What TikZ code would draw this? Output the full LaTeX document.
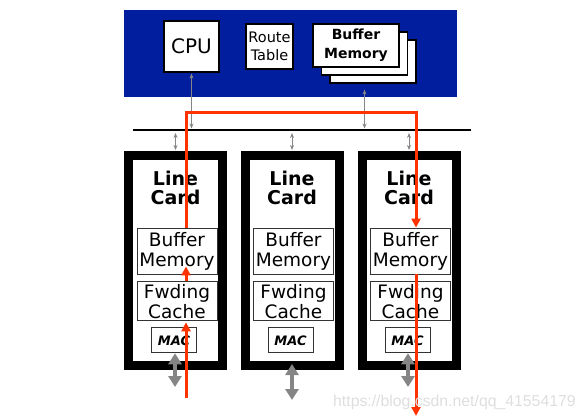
\documentclass[tikz,border=0pt]{standalone}
\usepackage{fontspec}
\setmainfont{DejaVu Sans}
\newfontfamily\wmfont{Liberation Sans}
\usepackage{tikz}
\usetikzlibrary{arrows.meta,positioning}
\definecolor{chassis}{HTML}{001E9E}
\definecolor{flow}{HTML}{FF3300}
\definecolor{link}{HTML}{858585}

\begin{document}
\begin{tikzpicture}[x=1pt, y=-1pt, >=Latex,
  unit/.style={draw, fill=white, line width=1.2pt, inner sep=0pt, align=center},
  cardbox/.style={draw, line width=9pt, fill=white, minimum width=94pt, minimum height=210pt, inner sep=0pt},
  part/.style={draw=black!80, fill=white, line width=0.9pt, minimum width=80pt, inner sep=0pt, align=center, font=\fontsize{18.5}{20}\selectfont},
  macbox/.style={draw=black!80, fill=white, line width=0.9pt, minimum width=45pt, minimum height=25pt, inner sep=0pt, font=\fontsize{13}{15}\selectfont\bfseries\itshape},
  thinlink/.style={<->, link, line width=0.9pt, >={Stealth[length=5pt,width=4pt]}},
  portlink/.style={<->, link, line width=4pt, >={Triangle[length=11pt,width=13pt]}},
  flowpath/.style={->, flow, line width=3pt, >={Triangle[length=9pt,width=9pt]}}]
\useasboundingbox (0,0) rectangle (586,420);

% switch fabric / CPU board
\node[fill=chassis, minimum width=333pt, minimum height=87pt, inner sep=0pt] (fabric) at (290.5,53.5) {};
\node[unit, minimum width=55pt, minimum height=51pt, font=\fontsize{20}{22}\selectfont] (cpu) at (191.5,46.5) {CPU};
\node[unit, minimum width=47pt, minimum height=45pt, font=\fontsize{14.5}{18}\selectfont] (rt) at (269.5,46.5) {Route\\Table};
\node[unit, minimum width=86pt, minimum height=43pt] (bm3) at (373,61.5) {};
\node[unit, minimum width=86pt, minimum height=43pt] (bm2) at (364.5,53.5) {};
\node[unit, minimum width=86pt, minimum height=43pt, font=\fontsize{14}{19}\selectfont\bfseries] (bm1) at (356,45.5) {Buffer\\Memory};

% bus
\coordinate (busL) at (133,130);
\coordinate (busR) at (471,130);
\draw[line width=1.6pt] (busL) -- (busR);
\draw[thinlink] ([yshift=-1pt]cpu.south) -- ([yshift=1.5pt]cpu.south |- busL);
\draw[thinlink] ([yshift=-6pt]bm2 |- bm3.south) -- ([yshift=1.5pt]bm2 |- busL);

% line cards
\foreach \i/\x in {1/175.5, 2/292, 3/409} {
  \node[cardbox] (card\i) at (\x,260.5) {};
  \node[align=center, font=\fontsize{19}{19}\selectfont\bfseries] (lc\i) at (\x,187.5) {Line\\Card};
  \node[part, minimum height=46pt] (buf\i) at (\x+1.5,251) {Buffer\\Memory};
  \node[part, minimum height=39pt, below=7pt of buf\i] (fwd\i) {Fwding\\Cache};
  \node[macbox, below=6pt of fwd\i, xshift=-3pt] (mac\i) {MAC};
  \draw[thinlink] ([yshift=-3pt]card\i.north |- busL) -- ([yshift=1pt]card\i.north);
}

% external ports
\coordinate (port1) at (175,387);
\coordinate (port2) at (292,400);
\coordinate (port3) at (408,387);
\draw[portlink] (port1 |- mac1.south) -- (port1);
\draw[portlink] ([yshift=6pt]port2 |- card2.south) -- (port2);
\draw[portlink] (port3 |- mac3.south) -- (port3);

% packet path
\coordinate (rin) at (186,398);
\coordinate (rturn) at (416,112);
\coordinate (rout) at (416,416);
\draw[flowpath] (rin) -- ([yshift=-1pt]rin |- fwd1.south);
\draw[flowpath] (rin |- fwd1.north) -- ([yshift=8pt]rin |- buf1.south);
\draw[flowpath] (rin |- buf1.north) |- (rturn) -- (rturn |- buf3.north);
\draw[flowpath] (rout |- buf3.south) -- (rout);

\node[text=black!13, font=\wmfont\fontsize{15.8}{18}\selectfont, anchor=west, inner sep=0pt] (wm) at (333,402) {https://blog.csdn.net/qq\_41554179};
\end{tikzpicture}
\end{document}
